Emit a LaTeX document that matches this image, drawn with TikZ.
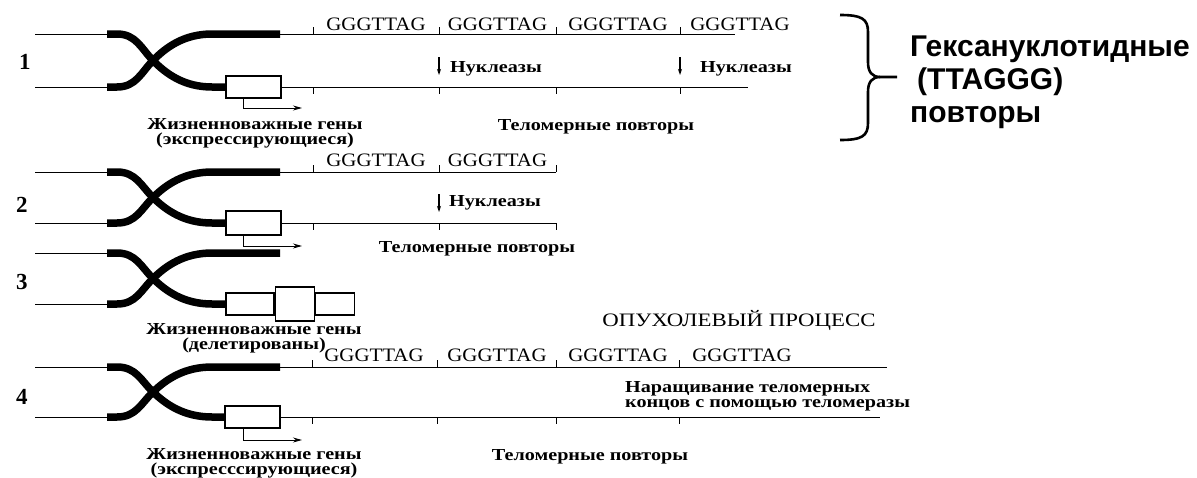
\documentclass[tikz,border=0pt]{standalone}
\usepackage{fontspec}
\setmainfont{Liberation Serif}
\newfontfamily\repfont[FakeStretch=1.1]{Liberation Serif}
\newfontfamily\labfont[FakeStretch=1.2]{Liberation Serif}
\newfontfamily\sidefont{Liberation Sans}
\usetikzlibrary{arrows.meta}

\tikzset{
  thinLine/.style={line width=0.9pt},
  armLine/.style={line width=7.5pt},
  geneBox/.style={draw, line width=1.1pt, fill=white, minimum width=55pt, minimum height=22pt, inner sep=0pt},
  promArrow/.style={-{Stealth[length=9pt, width=5pt]}, line width=0.9pt},
  nuclArrow/.style={-{Stealth[length=6pt, width=4pt]}, line width=1.2pt},
  repText/.style={font=\repfont\fontsize{19}{20}\selectfont, inner sep=0pt},
  labText/.style={font=\labfont\bfseries\fontsize{16.8}{15}\selectfont, align=center, inner sep=0pt},
  rowNum/.style={font=\bfseries\fontsize{23}{23}\selectfont, inner sep=0pt}
}

% концы хромосомы с перекрестом, #1 -- расстояние между нитями
\newcommand{\armsX}[1]{%
  \draw[thinLine] (35,0) -- (107,0) (35,#1) -- (107,#1);
  \draw[armLine] (107,0) -- (117,0) .. controls (136,0) and (141,0.27*#1) .. (153,0.5*#1)
    .. controls (166,0.75*#1) and (184,#1) .. (212,#1) -- (226,#1);
  \draw[armLine] (107,#1) -- (117,#1) .. controls (136,#1) and (141,0.73*#1) .. (153,0.5*#1)
    .. controls (166,0.25*#1) and (184,0) .. (212,0) -- (280,0);
}

\begin{document}
\begin{tikzpicture}[x=1pt, y=-1pt]
  \useasboundingbox (0,0) rectangle (1197,477);

  %% --- 1: нормальная клетка ---
  \begin{scope}[shift={(0,34)}]
    \armsX{53}
    \node[geneBox] (gene1) at (253.5,53) {};
    \draw[promArrow] ([xshift=-10.5pt]gene1.south) |- (302,74);
    \draw[thinLine] (280,0) -- (735,0);
    \draw[thinLine] (gene1.east) -- (748,53);
    \foreach \x in {313,439,556,680}
      \draw[thinLine] (\x,0) -- (\x,-7) (\x,53) -- (\x,60);
    \foreach \x in {376,497.5,618,740}
      \node[repText] at (\x,-10) {GGGTTAG};
    % нуклеазы
    \node[labText, anchor=west] (nucA) at (450,35) {Нуклеазы};
    \node[labText, anchor=west] (nucB) at (700,35) {Нуклеазы};
    \coordinate (nucAtop) at (439,23);
    \coordinate (nucBtop) at (680,23);
    \draw[nuclArrow] (nucAtop) -- ++(0,18);
    \draw[nuclArrow] (nucBtop) -- ++(0,18);
    \node[labText] (genes1) at (255,99) {Жизненноважные гены\\(экспрессирующиеся)};
    \node[labText] (tel1) at (596,93) {Теломерные повторы};
    \node[rowNum] (n1) at (25,28) {1};
  \end{scope}

  %% --- 2: укорочение теломер ---
  \begin{scope}[shift={(0,172)}]
    \armsX{51}
    \node[geneBox, minimum height=24pt] (gene2) at (253.5,51) {};
    \draw[promArrow] ([xshift=-10.5pt]gene2.south) |- (302,74);
    \draw[thinLine] (280,0) -- (556,0);
    \draw[thinLine] (gene2.east) -- (556,51);
    \foreach \x in {313,439,556}
      \draw[thinLine] (\x,0) -- (\x,-7) (\x,51) -- (\x,58);
    \foreach \x in {376,497.5}
      \node[repText] at (\x,-12) {GGGTTAG};
    \node[labText, anchor=west] (nucC) at (449,31) {Нуклеазы};
    \coordinate (nucCtop) at (439,22);
    \draw[nuclArrow] (nucCtop) -- ++(0,18);
    \node[labText] (tel2) at (477,77) {Теломерные повторы};
    \node[rowNum] (n2) at (22,33) {2};
  \end{scope}

  %% --- 3: гены делетированы ---
  \begin{scope}[shift={(0,253)}]
    \armsX{51}
    \node[geneBox, minimum width=48pt] (gene3a) at (250,51) {};
    \node[geneBox, minimum width=39pt, minimum height=34pt, anchor=west] (gene3b) at (gene3a.east) {};
    \node[geneBox, minimum width=39pt, anchor=west] (gene3c) at (gene3b.east) {};
    \node[labText] (genes3) at (254,85) {Жизненноважные гены\\(делетированы)};
    \node[rowNum] (n3) at (22,29) {3};
  \end{scope}

  \node[font=\labfont\fontsize{19}{20}\selectfont, inner sep=0pt] (tumor) at (739,320) {ОПУХОЛЕВЫЙ ПРОЦЕСС};

  %% --- 4: теломераза ---
  \begin{scope}[shift={(0,367)}]
    \armsX{50}
    \node[geneBox] (gene4) at (252.5,50) {};
    \draw[promArrow] ([xshift=-9.5pt]gene4.south) |- (302,73);
    \draw[thinLine] (280,0) -- (887,0);
    \draw[thinLine] (gene4.east) -- (880,50);
    \foreach \x in {312,437,556,679}
      \draw[thinLine] (\x,0) -- (\x,-7) (\x,50) -- (\x,57);
    \foreach \x in {374,497,618,742}
      \node[repText] at (\x,-12) {GGGTTAG};
    \node[labText, align=left, anchor=west] (grow) at (625,29.5)
      {Наращивание теломерных\\концов с помощью теломеразы};
    \node[labText] (genes4) at (254,96.5) {Жизненноважные гены\\(экспресссирующиеся)};
    \node[labText] (tel4) at (590,90) {Теломерные повторы};
    \node[rowNum] (n4) at (22,30) {4};
  \end{scope}

  %% скобка и подпись справа
  \draw[line width=2.6pt] (840,15) .. controls (862,15) and (868,19) .. (868,32) -- (868,62)
    .. controls (868,72) and (872,77) .. (880,77) -- (897,77);
  \draw[line width=2.6pt] (840,140) .. controls (862,140) and (868,136) .. (868,123) -- (868,92)
    .. controls (868,82) and (872,77) .. (880,77);
  \node[font=\sidefont\bfseries\fontsize{30}{33}\selectfont, align=left, anchor=west, inner sep=0pt]
    (hexa) at (910,82.5) {Гексануклотидные\\\hspace{7pt}(TTAGGG)\\повторы};
\end{tikzpicture}
\end{document}
